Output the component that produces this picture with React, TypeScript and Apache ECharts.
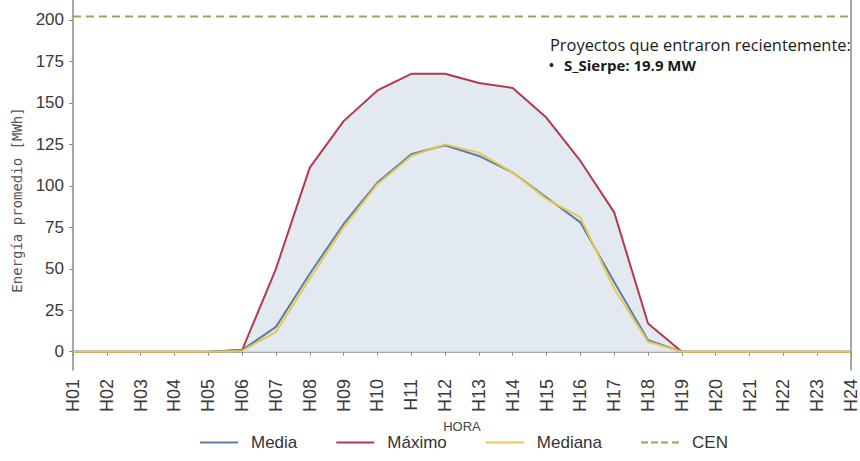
import React, { useEffect, useRef } from "react";
import * as echarts from "echarts";

const hours = ["H01","H02","H03","H04","H05","H06","H07","H08","H09","H10","H11","H12","H13","H14","H15","H16","H17","H18","H19","H20","H21","H22","H23","H24"];
const media =   [0,0,0,0,0,1,15,47,77,102,119,124.5,118,108,93,78,42,7,0,0,0,0,0,0];
const maximo =  [0,0,0,0,0,1,50,111,139,157.5,167.5,167.5,162,159,141,115,84,17,0,0,0,0,0,0];
const mediana = [0,0,0,0,0,0.5,12,44,75,101,118,125,120,108,92,81,38,6,0,0,0,0,0,0];
const cen =     [202,202,202,202,202,202,202,202,202,202,202,202,202,202,202,202,202,202,202,202,202,202,202,202];
const yTicks = [0,25,50,75,100,125,150,175,200];
const noteTitle = "Proyectos que entraron recientemente:";
const noteBullet = "•";
const noteItem = "S_Sierpe: 19.9 MW";

export default function App() {
  const ref = useRef<HTMLDivElement>(null);
  useEffect(() => {
    document.body.style.margin = "0";
    const chart = echarts.init(ref.current!, null, { renderer: "svg" });
    const axisColor = "#8a8a8a";
    const labelColor = "#3a3a3a";
    const font = "Liberation Sans, Arial, sans-serif";
    const dashIcon = "path://M0,0h7v2h-7zM10,0h7v2h-7zM20,0h7v2h-7zM31,0h7v2h-7z";
    chart.setOption({
      animation: false,
      backgroundColor: "#ffffff",
      grid: { left: 73, right: 4, top: 0, height: 370 },
      xAxis: {
        type: "category",
        data: hours,
        boundaryGap: false,
        name: "HORA",
        nameLocation: "middle",
        nameGap: 48,
        nameTextStyle: { color: "#444", fontSize: 13, fontFamily: font },
        axisLine: { show: true, lineStyle: { color: axisColor, width: 1.5 } },
        axisTick: { show: true, alignWithLabel: true, length: 4, lineStyle: { color: axisColor } },
        axisLabel: { rotate: 90, color: labelColor, fontSize: 18, fontFamily: font, margin: 9, interval: 0 },
        splitLine: { show: false },
      },
      yAxis: [
        {
          type: "value",
          min: -11,
          max: 212,
          axisLine: { show: true, lineStyle: { color: axisColor, width: 1.5 } },
          axisTick: { show: true, length: 4, customValues: yTicks, lineStyle: { color: axisColor } },
          axisLabel: { color: labelColor, fontSize: 17, fontFamily: font, margin: 9, customValues: yTicks },
          splitLine: { show: false },
        },
        {
          type: "value",
          position: "right",
          min: -11,
          max: 212,
          axisLine: { show: true, lineStyle: { color: axisColor, width: 1.5 } },
          axisTick: { show: false },
          axisLabel: { show: false },
          splitLine: { show: false },
        },
      ],
      legend: {
        left: 195,
        top: 429,
        itemWidth: 38,
        itemHeight: 2,
        itemGap: 39,
        textStyle: { color: "#333", fontSize: 17, fontFamily: font, padding: [0, 0, 0, 8] },
        data: [
          { name: "Media", icon: "rect" },
          { name: "Máximo", icon: "rect" },
          { name: "Mediana", icon: "rect" },
          { name: "CEN", icon: dashIcon },
        ],
      },
      graphic: [
        {
          type: "text",
          x: 17,
          y: 200,
          rotation: Math.PI / 2,
          style: {
            text: "Energía promedio [MWh]",
            fontFamily: "DejaVu Sans Mono, monospace",
            fontSize: 14,
            fill: "#555",
            align: "center",
            verticalAlign: "middle",
          },
        },
        {
          type: "text",
          x: 550,
          y: 36,
          style: { text: noteTitle, fontFamily: "Open Sans, sans-serif", fontSize: 16.4, fill: "#1a1a1a" },
        },
        {
          type: "text",
          x: 549,
          y: 58,
          style: { text: noteBullet, fontFamily: "Open Sans, sans-serif", fontSize: 13, fontWeight: "bold", fill: "#1a1a1a" },
        },
        {
          type: "text",
          x: 564,
          y: 57,
          style: { text: noteItem, fontFamily: "Open Sans, sans-serif", fontSize: 15, fontWeight: "bold", fill: "#1a1a1a" },
        },
      ],
      series: [
        {
          name: "Máximo",
          type: "line",
          data: maximo,
          symbol: "none",
          z: 2,
          lineStyle: { color: "#b33a4c", width: 2 },
          itemStyle: { color: "#b33a4c" },
          areaStyle: { color: "#e3e9f1", opacity: 1, origin: 0 },
        },
        {
          name: "Media",
          type: "line",
          data: media,
          symbol: "none",
          z: 3,
          lineStyle: { color: "#5a7fa6", width: 2 },
          itemStyle: { color: "#5a7fa6" },
        },
        {
          name: "Mediana",
          type: "line",
          data: mediana,
          symbol: "none",
          z: 4,
          lineStyle: { color: "#e8c84e", width: 2 },
          itemStyle: { color: "#e8c84e" },
        },
        {
          name: "CEN",
          type: "line",
          data: cen,
          symbol: "none",
          z: 3,
          lineStyle: { color: "#8fab5a", width: 2, type: [8, 5] },
          itemStyle: { color: "#8fab5a" },
        },
      ],
    });
    return () => chart.dispose();
  }, []);
  return <div ref={ref} style={{ width: 860, height: 461 }} />;
}
